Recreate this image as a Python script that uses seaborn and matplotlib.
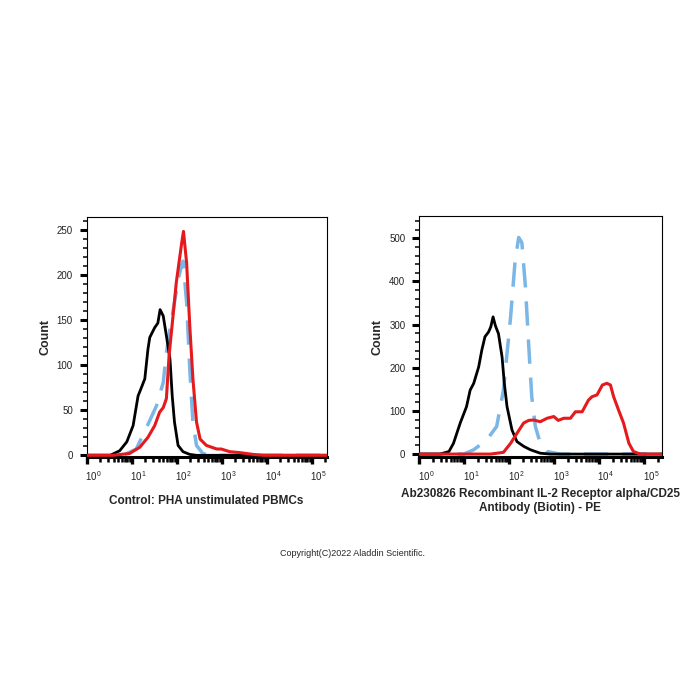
import matplotlib.pyplot as plt
import matplotlib.ticker as mticker
import matplotlib.transforms as mtrans
import numpy as np
import seaborn as sb

# log10 of fluorescence intensity, and counts
left_black_log = [0.0, 0.52, 0.73, 0.89, 1.03, 1.14, 1.22, 1.29, 1.36, 1.40, 1.51, 1.58, 1.63, 1.70,
                  1.77, 1.85, 1.90, 1.95, 2.03, 2.14, 2.29, 2.44, 5.4]
left_black_cnt = [0, 0, 5, 15, 33, 66, 76, 85, 118, 131, 142, 147, 162, 155,
                  133, 107, 66, 37, 11, 4, 1, 0, 0]

left_blue_log = [0.0, 0.81, 1.10, 1.32, 1.55, 1.70, 1.77, 1.85, 1.95, 2.03, 2.11, 2.14, 2.22,
                 2.29, 2.36, 2.44, 2.58, 2.73, 5.4]
left_blue_cnt = [0, 0, 7, 30, 55, 81, 114, 140, 170, 195, 212, 216, 170,
                 96, 37, 11, 2, 0, 0]

left_red_log = [0.0, 0.58, 0.95, 1.18, 1.36, 1.51, 1.62, 1.70, 1.77, 1.83, 1.91, 1.99, 2.11, 2.15,
                2.22, 2.29, 2.36, 2.44, 2.52, 2.66, 2.89, 2.99, 3.18, 3.40, 3.70, 3.92, 5.4]
left_red_cnt = [0, 0, 2, 9, 20, 33, 48, 53, 63, 111, 151, 192, 236, 249,
                214, 144, 85, 37, 18, 11, 7, 7, 4, 3, 1, 0, 0]

right_black_log = [0.0, 0.46, 0.66, 0.76, 0.91, 1.05, 1.13, 1.21, 1.32, 1.39, 1.46, 1.54, 1.59, 1.64,
                   1.69, 1.76, 1.84, 1.89, 1.95, 2.06, 2.17, 2.32, 2.47, 2.69, 2.91, 5.4]
right_black_cnt = [0, 0, 6, 25, 72, 110, 148, 164, 202, 241, 272, 283, 295, 318,
                   298, 279, 225, 164, 110, 56, 29, 18, 10, 2, 0, 0]

right_blue_log = [0.0, 0.99, 1.21, 1.50, 1.72, 1.87, 2.03, 2.13, 2.21, 2.28, 2.36, 2.43, 2.50,
                  2.58, 2.69, 2.84, 3.13, 5.4]
right_blue_cnt = [0, 0, 10, 33, 64, 148, 318, 448, 502, 490, 387, 256, 133,
                  64, 25, 6, 0, 0]

right_red_log = [0.0, 1.58, 1.87, 2.03, 2.17, 2.32, 2.43, 2.54, 2.69, 2.84, 2.99, 3.09, 3.21, 3.36,
                 3.47, 3.62, 3.76, 3.84, 3.95, 4.07, 4.17, 4.25, 4.32, 4.43, 4.54, 4.66, 4.76, 4.91, 5.4]
right_red_cnt = [0, 0, 4, 25, 48, 72, 78, 79, 75, 83, 87, 78, 83, 83,
                 98, 98, 125, 133, 137, 160, 164, 160, 133, 102, 72, 25, 6, 0, 0]

left_title = "Control: PHA unstimulated PBMCs"
right_title = "Ab230826 Recombinant IL-2 Receptor alpha/CD25\nAntibody (Biotin) - PE"
copyright_text = "Copyright(C)2022 Aladdin Scientific."

BLACK = "#000000"
RED = "#e41a1c"
BLUE = "#7ab6e6"

sb.set_style("white")
plt.rcParams["font.family"] = ["Liberation Sans", "DejaVu Sans"]
plt.rcParams["mathtext.fontset"] = "custom"
plt.rcParams["mathtext.rm"] = "Liberation Sans"
plt.rcParams["mathtext.it"] = "Liberation Sans"
plt.rcParams["mathtext.bf"] = "Liberation Sans:bold"
plt.rcParams["mathtext.default"] = "regular"

fig = plt.figure(figsize=(7, 7), dpi=100)
ax1 = fig.add_axes([0.124, 0.347, 0.343, 0.343])
ax2 = fig.add_axes([0.599, 0.347, 0.347, 0.344])


def decade_label(v, pos):
    return "10$^{\\,%d}$" % int(round(np.log10(v)))


def draw_panel(ax, black, blue, red, xmax, ylim, ymajor, yminor):
    ax.set_xscale("log")
    sb.lineplot(x=10 ** np.array(black[0]), y=black[1], ax=ax, color=BLACK, lw=2, zorder=3)
    sb.lineplot(x=10 ** np.array(blue[0]), y=blue[1], ax=ax, color=BLUE, lw=2.5, zorder=2)
    ax.lines[-1].set_dashes([7, 4])
    sb.lineplot(x=10 ** np.array(red[0]), y=red[1], ax=ax, color=RED, lw=2.2, zorder=4)
    ax.set_xlim(10 ** 0, 10 ** xmax)
    ax.set_ylim(*ylim)
    ax.xaxis.set_major_locator(mticker.FixedLocator([1, 10, 100, 1e3, 1e4, 1e5]))
    ax.xaxis.set_minor_locator(mticker.LogLocator(base=10, subs=np.arange(2, 10), numticks=20))
    ax.xaxis.set_major_formatter(mticker.FuncFormatter(decade_label))
    ax.xaxis.set_minor_formatter(mticker.NullFormatter())
    ax.yaxis.set_major_locator(mticker.MultipleLocator(ymajor))
    ax.yaxis.set_minor_locator(mticker.MultipleLocator(yminor))
    ax.tick_params(axis="x", which="major", direction="out", length=5, width=2.4,
                   labelsize=7, pad=4, color="black", labelcolor="#222222", bottom=True)
    ax.tick_params(axis="x", which="minor", direction="out", length=3.5, width=1.8,
                   color="black", bottom=True)
    ax.tick_params(axis="y", which="major", direction="out", length=5, width=2.2,
                   labelsize=7, pad=5, color="black", labelcolor="#222222", left=True)
    ax.tick_params(axis="y", which="minor", direction="out", length=3, width=1.1,
                   color="black", left=True)
    for side in ["top", "right", "left"]:
        ax.spines[side].set_color("black")
        ax.spines[side].set_linewidth(0.8)
    ax.spines["bottom"].set_color("black")
    ax.spines["bottom"].set_linewidth(2.2)
    ax.set_ylabel("Count", fontsize=9, fontweight="bold", labelpad=4)
    ax.set_xlabel("")
    ax.grid(False)
    # decade labels sit a little right of their ticks in the original
    shift = mtrans.ScaledTranslation(0.07, 0, fig.dpi_scale_trans)
    for lab in ax.get_xticklabels():
        lab.set_transform(lab.get_transform() + shift)


draw_panel(ax1, (left_black_log, left_black_cnt), (left_blue_log, left_blue_cnt),
           (left_red_log, left_red_cnt), 5.34, (-2, 265), 50, 10)
draw_panel(ax2, (right_black_log, right_black_cnt), (right_blue_log, right_blue_cnt),
           (right_red_log, right_red_cnt), 5.4, (-7, 551), 100, 20)

fig.text(0.295, 0.285, left_title, ha="center", va="center", fontsize=8.5, fontweight="bold")
fig.text(0.772, 0.284, right_title, ha="center", va="center", fontsize=8.5, fontweight="bold",
         linespacing=1.25)
fig.text(0.503, 0.21, copyright_text, ha="center", va="center", fontsize=6.5)

fig.savefig("out.png", dpi=100, facecolor="white")
